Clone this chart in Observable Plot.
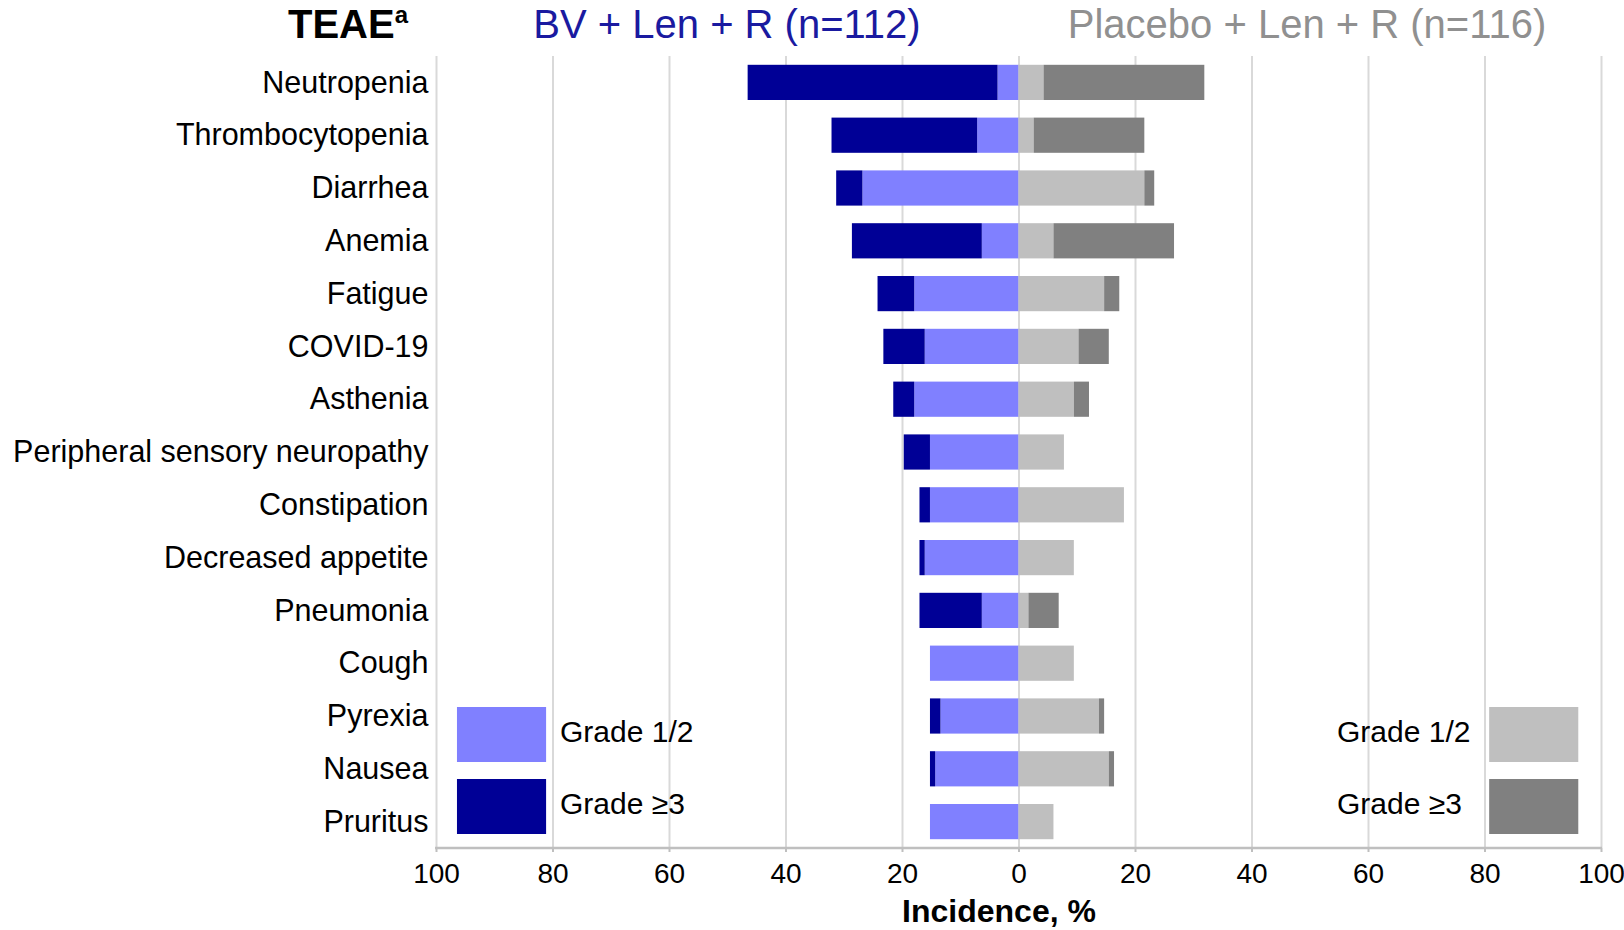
<!DOCTYPE html>
<html>
<head>
<meta charset="utf-8">
<script src="https://cdn.jsdelivr.net/npm/d3@7"></script>
<script src="https://cdn.jsdelivr.net/npm/@observablehq/plot@0.6"></script>
<style>
  body { margin: 0; background: #fff; }
  #chart svg { display: block; }
</style>
</head>
<body>
<div id="chart"></div>
<script>
// ---- data (incidence, %) ----
const categories = [
  "Neutropenia", "Thrombocytopenia", "Diarrhea", "Anemia", "Fatigue", "COVID-19",
  "Asthenia", "Peripheral sensory neuropathy", "Constipation", "Decreased appetite",
  "Pneumonia", "Cough", "Pyrexia", "Nausea", "Pruritus"
];
// BV + Len + R (n=112)
const bvGrade12 = [3.6, 7.1, 26.8, 6.3, 17.9, 16.1, 17.9, 15.2, 15.2, 16.1, 6.3, 15.2, 13.4, 14.3, 15.2];
const bvGrade3  = [42.9, 25.0, 4.5, 22.3, 6.3, 7.1, 3.6, 4.5, 1.8, 0.9, 10.7, 0, 1.8, 0.9, 0];
// Placebo + Len + R (n=116)
const pboGrade12 = [4.3, 2.6, 21.6, 6.0, 14.7, 10.3, 9.5, 7.8, 18.1, 9.5, 1.7, 9.5, 13.8, 15.5, 6.0];
const pboGrade3  = [27.6, 19.0, 1.7, 20.7, 2.6, 5.2, 2.6, 0, 0, 0, 5.2, 0, 0.9, 0.9, 0];

const xTicks = [-100, -80, -60, -40, -20, 0, 20, 40, 60, 80, 100];
const headerTEAE = "TEAE";
const headerSup = "a";
const headerBV = "BV + Len + R (n=112)";
const headerPbo = "Placebo + Len + R (n=116)";
const legendLabels = ["Grade 1/2", "Grade \u22653"];
const xLabel = "Incidence, %";

const COL = { bv12: "#8080ff", bv3: "#000096", p12: "#bfbfbf", p3: "#808080" };

const rows = categories.map((c, i) => ({
  c, b12: bvGrade12[i], b3: bvGrade3[i], p12: pboGrade12[i], p3: pboGrade3[i]
}));

const W = 1624, H = 930;
const mTop = 56, mBottom = 82, mLeft = 436, mRight = 23;
const inset = 8.8;

const chart = Plot.plot({
  width: W, height: H,
  marginLeft: mLeft, marginRight: mRight, marginTop: mTop, marginBottom: mBottom,
  style: { fontFamily: "'Liberation Sans', Arial, sans-serif", color: "#000", background: "#fff" },
  x: { domain: [-100, 100] },
  y: { domain: categories, padding: 0, round: false },
  marks: [
    Plot.ruleX(xTicks, { stroke: "#d9d9d9", strokeWidth: 2 }),
    Plot.barX(rows, { y: "c", x1: 0, x2: d => -d.b12, fill: COL.bv12, insetTop: inset, insetBottom: inset }),
    Plot.barX(rows, { y: "c", x1: d => -d.b12, x2: d => -(d.b12 + d.b3), fill: COL.bv3, insetTop: inset, insetBottom: inset }),
    Plot.barX(rows, { y: "c", x1: 0, x2: "p12", fill: COL.p12, insetTop: inset, insetBottom: inset }),
    Plot.barX(rows, { y: "c", x1: "p12", x2: d => d.p12 + d.p3, fill: COL.p3, insetTop: inset, insetBottom: inset }),
    Plot.axisY({ tickSize: 0, tickPadding: 8, fontSize: 30.5, label: null, fill: "#000" }),
    Plot.axisX({ ticks: xTicks, tickFormat: d => Math.abs(d), tickSize: 4, tickPadding: 11,
                 fontSize: 28, stroke: "#bfbfbf", strokeWidth: 2, fill: "#000", label: null })
  ]
});

document.getElementById("chart").appendChild(chart);

const svg = d3.select(chart);
const x = chart.scale("x");
const yBottom = H - mBottom;

// bottom axis line
svg.append("line")
  .attr("x1", x.apply(-100) - 1).attr("x2", x.apply(100) + 1)
  .attr("y1", yBottom).attr("y2", yBottom)
  .attr("stroke", "#bfbfbf").attr("stroke-width", 2.5);

// headers
const t = svg.append("text").attr("x", 288).attr("y", 38).attr("text-anchor", "start")
  .attr("font-size", 40).attr("font-weight", "bold").attr("fill", "#000").text(headerTEAE);
t.append("tspan").attr("font-size", 24).attr("dy", -15).text(headerSup);

svg.append("text").attr("x", 727).attr("y", 38).attr("text-anchor", "middle")
  .attr("font-size", 40).attr("fill", "#1a1aa0").text(headerBV);
svg.append("text").attr("x", 1307).attr("y", 38).attr("text-anchor", "middle")
  .attr("font-size", 40).attr("fill", "#909090").text(headerPbo);

// x label
svg.append("text").attr("x", 999).attr("y", 922).attr("text-anchor", "middle")
  .attr("font-size", 32).attr("font-weight", "bold").attr("fill", "#000").text(xLabel);

// legends
const boxTops = [707, 779], boxH = 55;
const leftColors = [COL.bv12, COL.bv3], rightColors = [COL.p12, COL.p3];
boxTops.forEach((y0, i) => {
  svg.append("rect").attr("x", x.apply(-96.4)).attr("y", y0)
    .attr("width", x.apply(-81.1) - x.apply(-96.4)).attr("height", boxH).attr("fill", leftColors[i]);
  svg.append("text").attr("x", 560).attr("y", y0 + 34.5).attr("text-anchor", "start").attr("font-size", 30)
    .attr("fill", "#000").text(legendLabels[i]);
  svg.append("rect").attr("x", x.apply(80.8)).attr("y", y0)
    .attr("width", x.apply(96.1) - x.apply(80.8)).attr("height", boxH).attr("fill", rightColors[i]);
  svg.append("text").attr("x", 1337).attr("y", y0 + 34.5).attr("text-anchor", "start").attr("font-size", 30)
    .attr("fill", "#000").text(legendLabels[i]);
});
</script>
</body>
</html>
